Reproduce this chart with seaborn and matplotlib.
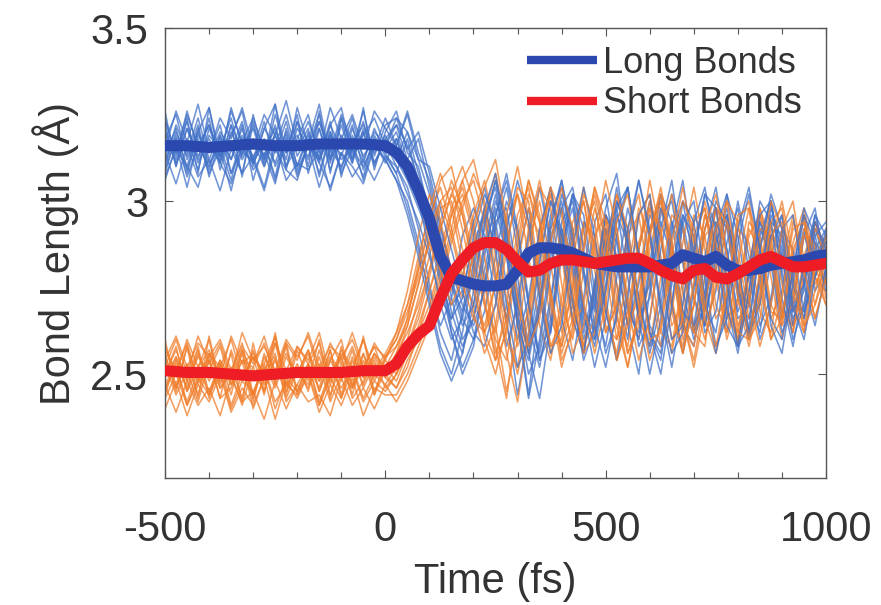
import numpy as np
import pandas as pd
import matplotlib
matplotlib.use("Agg")
import matplotlib.pyplot as plt
import seaborn as sns
from matplotlib.ticker import MultipleLocator

# ---------------- data ----------------
times = list(range(-500, 1001, 25))

# individual long-bond trajectories: before excitation (-500..0), transition (25..200), after (225..1000)
long_pre = [
    [3.22,3.10,3.21,3.12,3.24,3.09,3.20,3.13,3.23,3.10,3.19,3.14,3.25,3.08,3.21,3.11,3.22,3.12,3.20,3.10,3.18],
    [3.08,3.19,3.10,3.21,3.07,3.18,3.12,3.22,3.06,3.17,3.11,3.20,3.08,3.16,3.13,3.23,3.07,3.19,3.11,3.21,3.14],
    [3.24,3.13,3.26,3.15,3.22,3.12,3.27,3.16,3.21,3.11,3.25,3.14,3.23,3.17,3.28,3.12,3.24,3.15,3.26,3.13,3.22],
    [3.06,3.16,3.04,3.18,3.08,3.15,3.03,3.17,3.09,3.14,3.05,3.19,3.07,3.16,3.04,3.15,3.10,3.18,3.06,3.17,3.12],
    [3.15,3.26,3.17,3.28,3.14,3.24,3.18,3.27,3.15,3.25,3.19,3.29,3.16,3.23,3.14,3.27,3.18,3.25,3.15,3.26,3.21],
    [3.20,3.11,3.18,3.09,3.21,3.13,3.17,3.08,3.22,3.12,3.19,3.10,3.16,3.13,3.21,3.09,3.18,3.12,3.20,3.11,3.17],
    [3.14,3.05,3.16,3.07,3.12,3.03,3.15,3.08,3.13,3.04,3.17,3.06,3.11,3.09,3.15,3.03,3.14,3.07,3.12,3.06,3.13],
    [3.11,3.22,3.14,3.24,3.12,3.20,3.15,3.23,3.10,3.21,3.16,3.25,3.13,3.19,3.11,3.22,3.15,3.24,3.12,3.20,3.16],
    [3.23,3.14,3.25,3.16,3.22,3.13,3.26,3.17,3.24,3.15,3.21,3.12,3.27,3.16,3.23,3.14,3.25,3.17,3.22,3.15,3.24],
    [3.09,3.18,3.07,3.16,3.10,3.19,3.08,3.15,3.11,3.17,3.06,3.18,3.09,3.16,3.12,3.20,3.08,3.15,3.10,3.17,3.11],
    [3.19,3.12,3.21,3.13,3.18,3.11,3.22,3.14,3.17,3.10,3.20,3.15,3.19,3.12,3.23,3.13,3.18,3.11,3.21,3.14,3.19],
    [3.10,3.20,3.13,3.22,3.09,3.19,3.12,3.21,3.11,3.18,3.14,3.23,3.10,3.20,3.12,3.19,3.09,3.21,3.13,3.18,3.15],
    [3.26,3.10,3.24,3.08,3.27,3.11,3.22,3.07,3.25,3.12,3.28,3.09,3.23,3.10,3.26,3.08,3.24,3.11,3.27,3.09,3.20],
    [3.12,3.18,3.08,3.20,3.11,3.16,3.06,3.19,3.13,3.17,3.07,3.21,3.10,3.18,3.08,3.20,3.12,3.15,3.07,3.19,3.13],
    [3.18,3.25,3.12,3.20,3.27,3.13,3.19,3.26,3.11,3.21,3.28,3.14,3.18,3.25,3.12,3.22,3.27,3.13,3.19,3.24,3.16],
    [3.07,3.15,3.10,3.04,3.16,3.11,3.05,3.14,3.12,3.03,3.15,3.09,3.06,3.17,3.11,3.04,3.14,3.10,3.05,3.16,3.12],
    [3.20,3.14,3.23,3.11,3.19,3.15,3.24,3.12,3.18,3.13,3.22,3.10,3.21,3.16,3.25,3.12,3.19,3.14,3.23,3.11,3.18],
    [3.13,3.21,3.09,3.19,3.14,3.22,3.08,3.18,3.12,3.23,3.10,3.17,3.15,3.21,3.07,3.19,3.13,3.22,3.09,3.18,3.14],
]
long_transition = [
    [3.12,3.06,2.98,2.90,2.80,2.70,2.74,2.88],
    [3.08,3.18,3.05,2.96,2.82,2.64,2.56,2.70],
    [3.24,3.15,3.20,3.08,2.94,2.78,2.66,2.60],
    [3.06,3.00,2.88,2.72,2.58,2.50,2.62,2.80],
    [3.16,3.25,3.12,3.02,2.88,2.72,2.60,2.66],
    [3.10,3.04,2.92,2.76,2.62,2.54,2.68,2.86],
    [3.08,2.98,2.86,2.74,2.64,2.72,2.90,2.98],
    [3.22,3.12,3.18,3.04,2.90,2.76,2.68,2.78],
    [3.16,3.26,3.14,3.06,2.92,2.80,2.70,2.64],
    [3.18,3.08,3.02,2.90,2.76,2.62,2.52,2.60],
    [3.12,3.20,3.08,2.98,2.84,2.68,2.58,2.66],
    [3.20,3.10,3.04,2.92,2.78,2.66,2.72,2.90],
    [3.26,3.14,3.10,2.96,2.80,2.62,2.50,2.58],
    [3.10,3.02,2.94,2.84,2.72,2.66,2.78,2.94],
    [3.24,3.20,3.12,3.10,2.98,2.86,2.74,2.62],
    [3.06,2.96,2.84,2.70,2.56,2.48,2.56,2.74],
    [3.22,3.16,3.06,2.94,2.86,2.76,2.64,2.70],
    [3.18,3.10,3.00,2.86,2.70,2.60,2.66,2.82],
]
long_post = [
    [2.96,2.78,2.66,2.84,2.98,2.74,2.62,2.90,3.02,2.80,2.68,2.92,2.76,2.60,2.86,3.00,2.82,2.70,2.94,2.78,2.64,2.88,2.98,2.74,2.70,2.92,2.84,2.66,2.80,2.96,2.78,2.86],
    [2.88,3.02,2.84,2.66,2.58,2.76,2.96,3.04,2.86,2.68,2.62,2.82,3.00,2.90,2.72,2.56,2.70,2.92,3.06,2.84,2.64,2.74,2.94,2.80,2.60,2.78,2.98,2.88,2.70,2.76,2.92,2.82],
    [2.68,2.84,3.00,2.92,2.72,2.54,2.66,2.88,2.98,2.78,2.62,2.74,2.94,3.04,2.82,2.64,2.58,2.80,2.96,2.86,2.68,2.80,3.02,2.90,2.70,2.62,2.84,2.96,2.78,2.66,2.84,2.90],
    [2.96,3.04,2.86,2.66,2.44,2.70,2.90,2.98,2.80,2.60,2.72,2.92,2.84,2.64,2.50,2.74,2.96,3.00,2.82,2.62,2.70,2.90,2.78,2.58,2.74,2.94,2.86,2.68,2.78,2.92,2.74,2.80],
    [2.80,2.96,3.06,2.90,2.70,2.56,2.72,2.92,2.82,2.62,2.76,2.98,3.08,2.86,2.68,2.76,2.94,2.84,2.64,2.58,2.78,2.98,2.92,2.72,2.66,2.86,3.00,2.84,2.68,2.80,2.94,2.86],
    [2.98,2.86,2.66,2.44,2.62,2.84,3.00,2.90,2.70,2.56,2.74,2.96,2.88,2.68,2.62,2.82,3.02,2.94,2.74,2.60,2.70,2.88,2.96,2.76,2.60,2.72,2.90,2.84,2.66,2.74,2.92,2.88],
    [2.90,2.72,2.58,2.70,2.90,3.04,2.88,2.66,2.54,2.72,2.94,3.02,2.82,2.64,2.76,2.96,2.90,2.70,2.56,2.74,2.92,3.04,2.86,2.68,2.78,2.94,2.82,2.62,2.70,2.90,2.98,2.80],
    [2.92,3.06,2.94,2.74,2.58,2.68,2.88,3.00,2.84,2.64,2.70,2.90,2.98,2.78,2.58,2.66,2.86,3.02,2.92,2.72,2.64,2.84,2.96,2.82,2.62,2.76,2.94,2.90,2.70,2.68,2.86,2.92],
    [2.74,2.92,3.04,2.86,2.64,2.52,2.70,2.94,3.00,2.80,2.60,2.76,2.96,2.88,2.66,2.72,2.92,3.06,2.84,2.62,2.74,2.94,2.86,2.66,2.70,2.90,3.00,2.80,2.64,2.82,2.96,2.84],
    [2.76,2.94,2.98,2.78,2.56,2.43,2.64,2.86,3.02,2.92,2.70,2.58,2.78,2.98,2.86,2.62,2.54,2.76,2.96,2.90,2.70,2.62,2.82,3.00,2.84,2.64,2.72,2.92,2.86,2.68,2.78,2.90],
    [2.84,3.00,2.92,2.70,2.56,2.72,2.94,3.06,2.88,2.66,2.60,2.80,3.00,2.92,2.72,2.58,2.74,2.94,2.84,2.64,2.72,2.92,3.02,2.82,2.62,2.70,2.90,2.96,2.76,2.66,2.84,2.88],
    [3.02,2.94,2.76,2.60,2.72,2.92,3.04,2.86,2.66,2.56,2.76,2.96,2.90,2.70,2.60,2.80,2.98,2.88,2.68,2.64,2.84,3.00,2.94,2.74,2.62,2.78,2.96,2.86,2.68,2.76,2.94,2.86],
    [2.76,2.96,3.08,2.92,2.70,2.54,2.62,2.84,3.02,2.96,2.74,2.56,2.66,2.88,3.06,2.90,2.68,2.52,2.70,2.94,3.04,2.86,2.64,2.58,2.80,3.00,2.94,2.72,2.58,2.76,2.96,2.90],
    [3.04,2.90,2.70,2.52,2.60,2.82,3.00,2.92,2.72,2.54,2.64,2.86,3.04,2.88,2.66,2.50,2.66,2.90,3.00,2.82,2.62,2.68,2.88,2.98,2.80,2.60,2.70,2.92,2.96,2.76,2.64,2.80],
    [2.58,2.70,2.92,3.06,2.94,2.72,2.56,2.64,2.86,3.04,2.90,2.68,2.54,2.72,2.96,3.02,2.80,2.60,2.64,2.86,3.02,2.92,2.70,2.56,2.74,2.96,3.00,2.78,2.60,2.70,2.90,2.94],
    [2.94,3.06,2.88,2.64,2.43,2.60,2.84,3.02,2.92,2.68,2.52,2.66,2.90,3.04,2.84,2.62,2.50,2.70,2.94,3.00,2.78,2.58,2.66,2.88,3.02,2.86,2.64,2.56,2.76,2.96,2.88,2.74],
    [2.86,2.98,2.84,2.64,2.54,2.70,2.92,3.06,2.90,2.70,2.58,2.74,2.98,3.04,2.84,2.62,2.56,2.78,3.00,2.94,2.72,2.56,2.70,2.92,3.04,2.86,2.66,2.60,2.80,2.98,2.90,2.78],
    [2.98,3.08,2.90,2.68,2.50,2.58,2.80,2.98,3.04,2.86,2.64,2.52,2.68,2.92,3.06,2.92,2.70,2.56,2.62,2.84,3.02,2.98,2.76,2.58,2.64,2.86,3.02,2.92,2.70,2.60,2.78,2.92],
]

short_pre = [
    [2.56,2.45,2.58,2.47,2.54,2.43,2.57,2.48,2.55,2.44,2.59,2.46,2.53,2.45,2.57,2.47,2.55,2.44,2.56,2.48,2.54],
    [2.44,2.54,2.46,2.57,2.43,2.53,2.47,2.56,2.42,2.55,2.48,2.58,2.44,2.52,2.46,2.57,2.43,2.54,2.47,2.55,2.49],
    [2.52,2.60,2.50,2.61,2.53,2.59,2.49,2.62,2.54,2.58,2.51,2.60,2.55,2.61,2.50,2.59,2.53,2.62,2.52,2.58,2.55],
    [2.47,2.39,2.48,2.41,2.46,2.38,2.49,2.42,2.45,2.37,2.48,2.40,2.47,2.42,2.44,2.38,2.49,2.41,2.46,2.40,2.47],
    [2.50,2.57,2.48,2.55,2.51,2.58,2.47,2.54,2.52,2.59,2.49,2.56,2.50,2.57,2.48,2.55,2.51,2.58,2.49,2.56,2.52],
    [2.55,2.46,2.53,2.44,2.56,2.48,2.52,2.43,2.57,2.47,2.54,2.45,2.51,2.46,2.55,2.44,2.53,2.47,2.56,2.45,2.52],
    [2.46,2.52,2.42,2.51,2.45,2.53,2.41,2.50,2.44,2.52,2.40,2.49,2.45,2.53,2.42,2.51,2.46,2.52,2.43,2.50,2.47],
    [2.58,2.50,2.60,2.52,2.57,2.49,2.61,2.53,2.56,2.50,2.59,2.51,2.58,2.54,2.62,2.49,2.57,2.52,2.60,2.51,2.56],
    [2.49,2.55,2.45,2.56,2.48,2.54,2.44,2.57,2.50,2.53,2.46,2.55,2.49,2.56,2.45,2.54,2.48,2.57,2.46,2.53,2.50],
    [2.53,2.44,2.51,2.42,2.54,2.46,2.50,2.41,2.52,2.45,2.55,2.43,2.51,2.47,2.53,2.42,2.50,2.46,2.54,2.44,2.51],
    [2.43,2.50,2.41,2.49,2.44,2.51,2.40,2.48,2.45,2.52,2.42,2.47,2.44,2.50,2.41,2.49,2.43,2.51,2.42,2.48,2.45],
    [2.54,2.61,2.52,2.59,2.55,2.60,2.51,2.58,2.53,2.61,2.50,2.59,2.54,2.62,2.52,2.58,2.55,2.60,2.51,2.59,2.54],
    [2.60,2.46,2.58,2.43,2.61,2.47,2.56,2.42,2.59,2.45,2.62,2.44,2.57,2.48,2.60,2.43,2.58,2.46,2.61,2.44,2.55],
    [2.40,2.48,2.38,2.47,2.42,2.50,2.39,2.46,2.41,2.49,2.37,2.48,2.43,2.50,2.39,2.47,2.41,2.49,2.38,2.46,2.44],
    [2.50,2.58,2.45,2.52,2.60,2.46,2.51,2.59,2.44,2.53,2.61,2.47,2.50,2.57,2.45,2.54,2.60,2.46,2.52,2.58,2.49],
    [2.47,2.53,2.41,2.48,2.55,2.43,2.46,2.54,2.40,2.49,2.56,2.42,2.47,2.53,2.41,2.50,2.55,2.43,2.48,2.54,2.46],
    [2.57,2.51,2.59,2.48,2.56,2.52,2.60,2.49,2.55,2.50,2.61,2.47,2.58,2.53,2.59,2.48,2.56,2.51,2.60,2.49,2.55],
    [2.45,2.55,2.48,2.58,2.44,2.54,2.49,2.57,2.43,2.56,2.47,2.59,2.45,2.53,2.48,2.57,2.44,2.55,2.49,2.56,2.50],
]
short_transition = [
    [2.50,2.58,2.66,2.78,2.92,3.02,2.96,2.82],
    [2.46,2.52,2.62,2.74,2.86,2.98,3.06,2.94],
    [2.60,2.70,2.84,2.96,3.04,2.92,2.78,2.70],
    [2.42,2.48,2.56,2.64,2.76,2.88,2.98,3.08],
    [2.58,2.64,2.76,2.90,2.86,2.74,2.82,2.96],
    [2.48,2.56,2.62,2.70,2.82,2.96,3.04,2.92],
    [2.52,2.60,2.72,2.84,2.98,3.00,2.86,2.74],
    [2.62,2.74,2.90,3.02,2.94,2.80,2.72,2.84],
    [2.46,2.54,2.60,2.68,2.80,2.92,3.06,3.12],
    [2.56,2.62,2.70,2.80,2.94,3.06,2.98,2.84],
    [2.50,2.56,2.64,2.74,2.84,2.96,3.02,2.90],
    [2.62,2.70,2.80,2.92,3.00,2.90,2.76,2.66],
    [2.58,2.66,2.80,2.94,3.06,3.10,2.96,2.80],
    [2.44,2.50,2.58,2.66,2.78,2.90,3.00,3.06],
    [2.56,2.66,2.82,2.98,3.08,2.98,2.82,2.68],
    [2.50,2.58,2.68,2.80,2.92,3.02,3.10,3.00],
    [2.60,2.68,2.78,2.88,2.80,2.70,2.78,2.92],
    [2.54,2.64,2.76,2.88,3.00,3.04,2.92,2.76],
]
short_post = [
    [2.70,2.62,2.78,2.96,3.04,2.86,2.66,2.58,2.76,2.94,2.88,2.68,2.56,2.74,2.96,3.02,2.84,2.64,2.70,2.90,2.98,2.80,2.62,2.72,2.92,2.86,2.66,2.74,2.94,2.84,2.70,2.80],
    [2.78,2.60,2.54,2.72,2.92,3.06,2.90,2.70,2.60,2.80,2.98,2.86,2.64,2.52,2.70,2.92,3.00,2.82,2.62,2.76,2.96,2.88,2.68,2.60,2.80,2.98,2.84,2.64,2.72,2.90,2.82,2.76],
    [2.64,2.76,2.94,3.02,2.84,2.64,2.54,2.72,2.94,3.00,2.80,2.62,2.70,2.90,2.96,2.76,2.58,2.68,2.88,3.04,2.86,2.66,2.72,2.92,2.88,2.68,2.62,2.82,2.96,2.80,2.66,2.78],
    [3.00,2.84,2.64,2.50,2.66,2.88,3.02,2.90,2.70,2.58,2.74,2.94,2.92,2.72,2.60,2.78,2.98,2.86,2.66,2.54,2.72,2.92,2.96,2.76,2.62,2.74,2.92,2.84,2.64,2.70,2.88,2.84],
    [3.06,2.92,2.72,2.58,2.68,2.90,3.04,2.88,2.66,2.56,2.76,2.96,2.84,2.64,2.72,2.92,3.02,2.82,2.60,2.70,2.90,2.94,2.74,2.58,2.78,2.98,2.88,2.68,2.64,2.84,2.94,2.82],
    [2.76,2.58,2.43,2.66,2.88,3.00,2.82,2.62,2.74,2.94,2.90,2.70,2.54,2.66,2.86,3.00,2.90,2.70,2.58,2.76,2.96,2.86,2.66,2.70,2.90,2.96,2.78,2.60,2.74,2.92,2.86,2.72],
    [2.62,2.70,2.88,3.02,2.92,2.72,2.56,2.68,2.90,3.04,2.86,2.64,2.60,2.80,2.98,2.90,2.70,2.56,2.74,2.94,2.98,2.78,2.60,2.72,2.94,2.90,2.70,2.64,2.84,2.96,2.78,2.74],
    [2.96,3.08,2.92,2.70,2.56,2.70,2.92,2.98,2.78,2.58,2.66,2.88,3.02,2.86,2.66,2.58,2.78,2.96,2.92,2.72,2.60,2.76,2.94,2.86,2.66,2.70,2.90,2.94,2.74,2.64,2.82,2.88],
    [2.98,2.80,2.60,2.52,2.70,2.92,3.02,2.84,2.64,2.70,2.90,2.96,2.76,2.56,2.64,2.86,3.00,2.88,2.68,2.62,2.82,2.98,2.84,2.64,2.72,2.92,2.90,2.70,2.62,2.80,2.94,2.86],
    [2.70,2.56,2.66,2.86,3.02,2.94,2.74,2.58,2.70,2.92,3.00,2.80,2.60,2.68,2.88,2.98,2.80,2.60,2.66,2.86,3.00,2.88,2.68,2.62,2.82,2.96,2.86,2.66,2.70,2.90,2.88,2.76],
    [2.72,2.54,2.62,2.82,2.98,2.90,2.70,2.52,2.64,2.86,3.02,2.88,2.66,2.58,2.78,2.98,2.92,2.72,2.56,2.70,2.92,2.98,2.78,2.60,2.70,2.88,2.94,2.76,2.62,2.78,2.92,2.84],
    [2.62,2.76,2.96,3.10,2.94,2.74,2.58,2.66,2.88,3.00,2.84,2.62,2.70,2.92,3.02,2.82,2.62,2.58,2.78,2.96,2.90,2.70,2.62,2.82,2.98,2.88,2.68,2.66,2.86,2.94,2.78,2.70],
    [2.62,2.54,2.70,2.92,3.06,2.94,2.72,2.56,2.66,2.88,3.04,2.90,2.68,2.52,2.68,2.90,3.02,2.86,2.64,2.58,2.78,2.98,2.94,2.72,2.58,2.72,2.94,2.98,2.78,2.62,2.74,2.86],
    [2.94,2.76,2.56,2.42,2.62,2.86,3.04,2.96,2.74,2.56,2.62,2.84,3.02,2.92,2.70,2.54,2.64,2.88,3.04,2.88,2.66,2.56,2.72,2.94,3.00,2.80,2.60,2.66,2.88,2.98,2.82,2.70],
    [2.56,2.64,2.86,3.04,3.00,2.78,2.58,2.60,2.82,3.02,2.94,2.72,2.54,2.64,2.86,3.06,2.90,2.68,2.56,2.70,2.92,3.02,2.84,2.62,2.60,2.80,3.00,2.92,2.70,2.62,2.80,2.90],
    [2.84,2.64,2.45,2.60,2.84,3.04,2.98,2.76,2.56,2.64,2.88,3.06,2.92,2.70,2.54,2.66,2.90,3.02,2.84,2.62,2.58,2.80,3.00,2.94,2.72,2.58,2.70,2.92,3.00,2.80,2.66,2.78],
    [3.04,3.12,2.94,2.72,2.58,2.66,2.88,3.04,2.92,2.70,2.56,2.70,2.94,3.02,2.82,2.60,2.62,2.84,3.00,2.92,2.70,2.58,2.74,2.96,2.98,2.76,2.60,2.72,2.92,2.94,2.76,2.82],
    [2.60,2.50,2.64,2.88,3.06,2.96,2.74,2.54,2.62,2.86,3.04,2.94,2.72,2.56,2.66,2.90,3.04,2.88,2.66,2.52,2.68,2.92,3.00,2.80,2.60,2.66,2.88,3.00,2.84,2.64,2.70,2.84],
]

# ensemble-averaged curves
mean_times = [-500,-450,-400,-350,-300,-250,-200,-150,-100,-50,0,
              25,50,75,100,125,150,175,200,225,250,
              275,300,325,350,375,400,425,450,475,500,
              525,550,575,600,625,650,675,700,725,750,
              775,800,825,850,875,900,925,950,975,1000]
long_mean = [3.16,3.16,3.155,3.16,3.165,3.16,3.16,3.165,3.165,3.165,3.16,
             3.14,3.10,3.03,2.95,2.84,2.78,2.77,2.76,2.755,2.755,
             2.76,2.80,2.85,2.865,2.865,2.86,2.85,2.835,2.82,2.815,
             2.81,2.81,2.81,2.81,2.815,2.82,2.845,2.835,2.825,2.84,
             2.815,2.80,2.80,2.805,2.815,2.82,2.825,2.83,2.84,2.845]
short_mean = [2.51,2.505,2.505,2.50,2.495,2.50,2.505,2.505,2.505,2.51,2.51,
              2.53,2.58,2.615,2.64,2.72,2.79,2.83,2.865,2.88,2.88,
              2.86,2.825,2.795,2.80,2.82,2.83,2.83,2.825,2.82,2.825,
              2.83,2.835,2.835,2.82,2.80,2.785,2.775,2.80,2.805,2.78,
              2.775,2.79,2.81,2.83,2.84,2.825,2.81,2.81,2.815,2.82]

legend_labels = ["Long Bonds", "Short Bonds"]

# ---------------- plot ----------------
sns.set_style("ticks")
plt.rcParams["font.family"] = ["Liberation Sans", "DejaVu Sans"]

fig = plt.figure(figsize=(8.81, 6.05), dpi=100)
ax = fig.add_axes([0.1873, 0.2099, 0.7503, 0.7438])

thin_blue = "#4272C8"
thin_orange = "#F07E2C"

long_runs = [a + b + c for a, b, c in zip(long_pre, long_transition, long_post)]
short_runs = [a + b + c for a, b, c in zip(short_pre, short_transition, short_post)]

for lr, sr in zip(long_runs, short_runs):
    n = min(len(times), len(lr))
    sns.lineplot(x=times[:n], y=lr[:n], ax=ax, color=thin_blue, lw=1.15,
                 alpha=0.75, sort=False, errorbar=None, zorder=2)
    n = min(len(times), len(sr))
    sns.lineplot(x=times[:n], y=sr[:n], ax=ax, color=thin_orange, lw=1.15,
                 alpha=0.75, sort=False, errorbar=None, zorder=2)

sns.lineplot(x=mean_times, y=long_mean, ax=ax, color="#2B48AE", lw=8,
             sort=False, errorbar=None, zorder=4, label=legend_labels[0])
sns.lineplot(x=mean_times, y=short_mean, ax=ax, color="#EE1D25", lw=8,
             sort=False, errorbar=None, zorder=5, label=legend_labels[1])

ax.set_xlim(-500, 1000)
ax.set_ylim(2.2, 3.5)
ax.set_xticks([-500, 0, 500, 1000])
ax.set_xticklabels(["-500", "0", "500", "1000"])
ax.xaxis.set_minor_locator(MultipleLocator(100))
ax.set_yticks([2.5, 3.0, 3.5])
ax.set_yticklabels(["2.5", "3", "3.5"])

for s in ax.spines.values():
    s.set_visible(True)
    s.set_color("#555555")
    s.set_linewidth(1.0)

ax.tick_params(which="both", direction="in", top=True, right=True,
               colors="#555555", labelcolor="#333333", width=0.8)
ax.tick_params(axis="x", which="major", length=6, labelsize=30, pad=23)
ax.tick_params(axis="x", which="minor", length=4)
ax.tick_params(axis="y", which="major", length=6, labelsize=30, pad=12)

ax.set_xlabel("Time (fs)", fontsize=30, color="#333333", labelpad=9)
ax.set_ylabel("Bond Length (Å)", fontsize=30, color="#333333", labelpad=8)

leg = ax.legend(loc="upper right", bbox_to_anchor=(0.991, 1.0), frameon=False,
                fontsize=26, handlelength=1.95, handletextpad=0.17,
                labelspacing=0.15, borderaxespad=0.1)
for t in leg.get_texts():
    t.set_color("#333333")
for ln in leg.get_lines():
    ln.set_linewidth(6)
    ln.set_solid_capstyle("butt")

fig.savefig("out.png", dpi=100)
